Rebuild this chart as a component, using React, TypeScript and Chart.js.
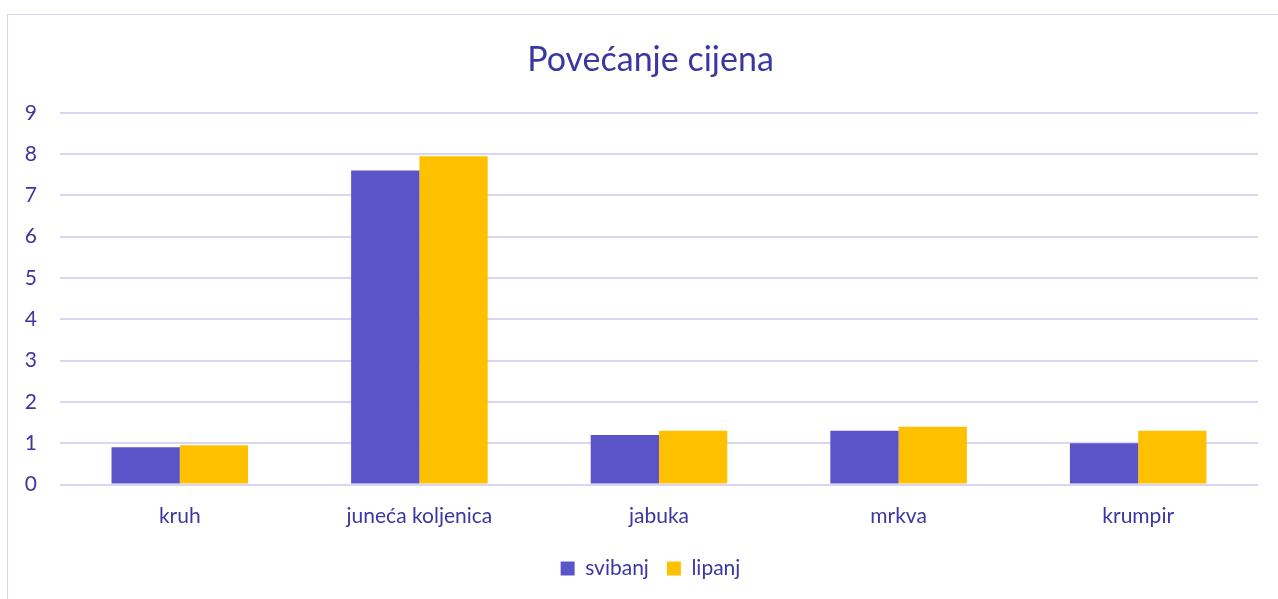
import React, { useEffect, useRef } from "react";
import { Chart, registerables } from "chart.js";

Chart.register(...registerables);

const categories = ["kruh", "juneća koljenica", "jabuka", "mrkva", "krumpir"];
const svibanjValues = [0.9, 7.6, 1.2, 1.3, 1.0];
const lipanjValues = [0.95, 7.95, 1.3, 1.4, 1.3];
const seriesNames = ["svibanj", "lipanj"];
const titleText = "Povećanje cijena";
const yMin = 0;
const yMax = 9;
const yStep = 1;

const TEXT = "#3C37A0";
const GRID = "#D9D6F3";
const FONT = "Lato, 'Open Sans', sans-serif";

export default function App() {
  const ref = useRef<HTMLCanvasElement | null>(null);

  useEffect(() => {
    if (!ref.current) return;
    const chart = new Chart(ref.current, {
      type: "bar",
      data: {
        labels: categories,
        datasets: [
          {
            label: seriesNames[0],
            data: svibanjValues,
            backgroundColor: "#5B54C9",
            categoryPercentage: 0.57,
            barPercentage: 1.0,
          },
          {
            label: seriesNames[1],
            data: lipanjValues,
            backgroundColor: "#FFC000",
            categoryPercentage: 0.57,
            barPercentage: 1.0,
          },
        ],
      },
      options: {
        responsive: false,
        animation: false,
        layout: { padding: { left: 0, right: 0, top: 0, bottom: 10 } },
        plugins: {
          title: {
            display: true,
            text: titleText,
            color: TEXT,
            font: { family: FONT, size: 34, weight: "normal", lineHeight: 1.2 },
            padding: { top: 25, bottom: 32 },
          },
          legend: {
            position: "bottom",
            labels: {
              color: TEXT,
              font: { family: FONT, size: 21 },
              boxWidth: 14,
              boxHeight: 14,
              padding: 18,
            },
          },
          tooltip: { enabled: false },
        },
        scales: {
          x: {
            grid: { display: false, drawTicks: false },
            border: { display: false },
            ticks: {
              color: TEXT,
              font: { family: FONT, size: 21 },
              padding: 19,
            },
            afterFit: (s: any) => {
              s.height = 55.5;
            },
          },
          y: {
            min: yMin,
            max: yMax,
            ticks: {
              stepSize: yStep,
              color: TEXT,
              font: { family: FONT, size: 21 },
              padding: 23,
            },
            grid: { color: GRID, lineWidth: 2, drawTicks: false },
            border: { display: false },
            afterFit: (s: any) => {
              s.width = 52;
            },
          },
          yRightSpace: {
            position: "right",
            display: true,
            ticks: { display: false },
            grid: { display: false, drawTicks: false },
            border: { display: false },
            afterFit: (s: any) => {
              s.width = 35;
            },
          },
        },
      },
    });
    return () => chart.destroy();
  }, []);

  return (
    <div
      style={{
        position: "fixed",
        left: 7,
        top: 14,
        width: 1300,
        height: 600,
        borderLeft: "1px solid #D6D3F2",
        borderTop: "1px solid #D6D3F2",
        background: "#fff",
      }}
    >
      <canvas
        ref={ref}
        width={1285}
        height={584}
        style={{ position: "absolute", left: 0, top: 0, width: 1285, height: 584 }}
      />
    </div>
  );
}
